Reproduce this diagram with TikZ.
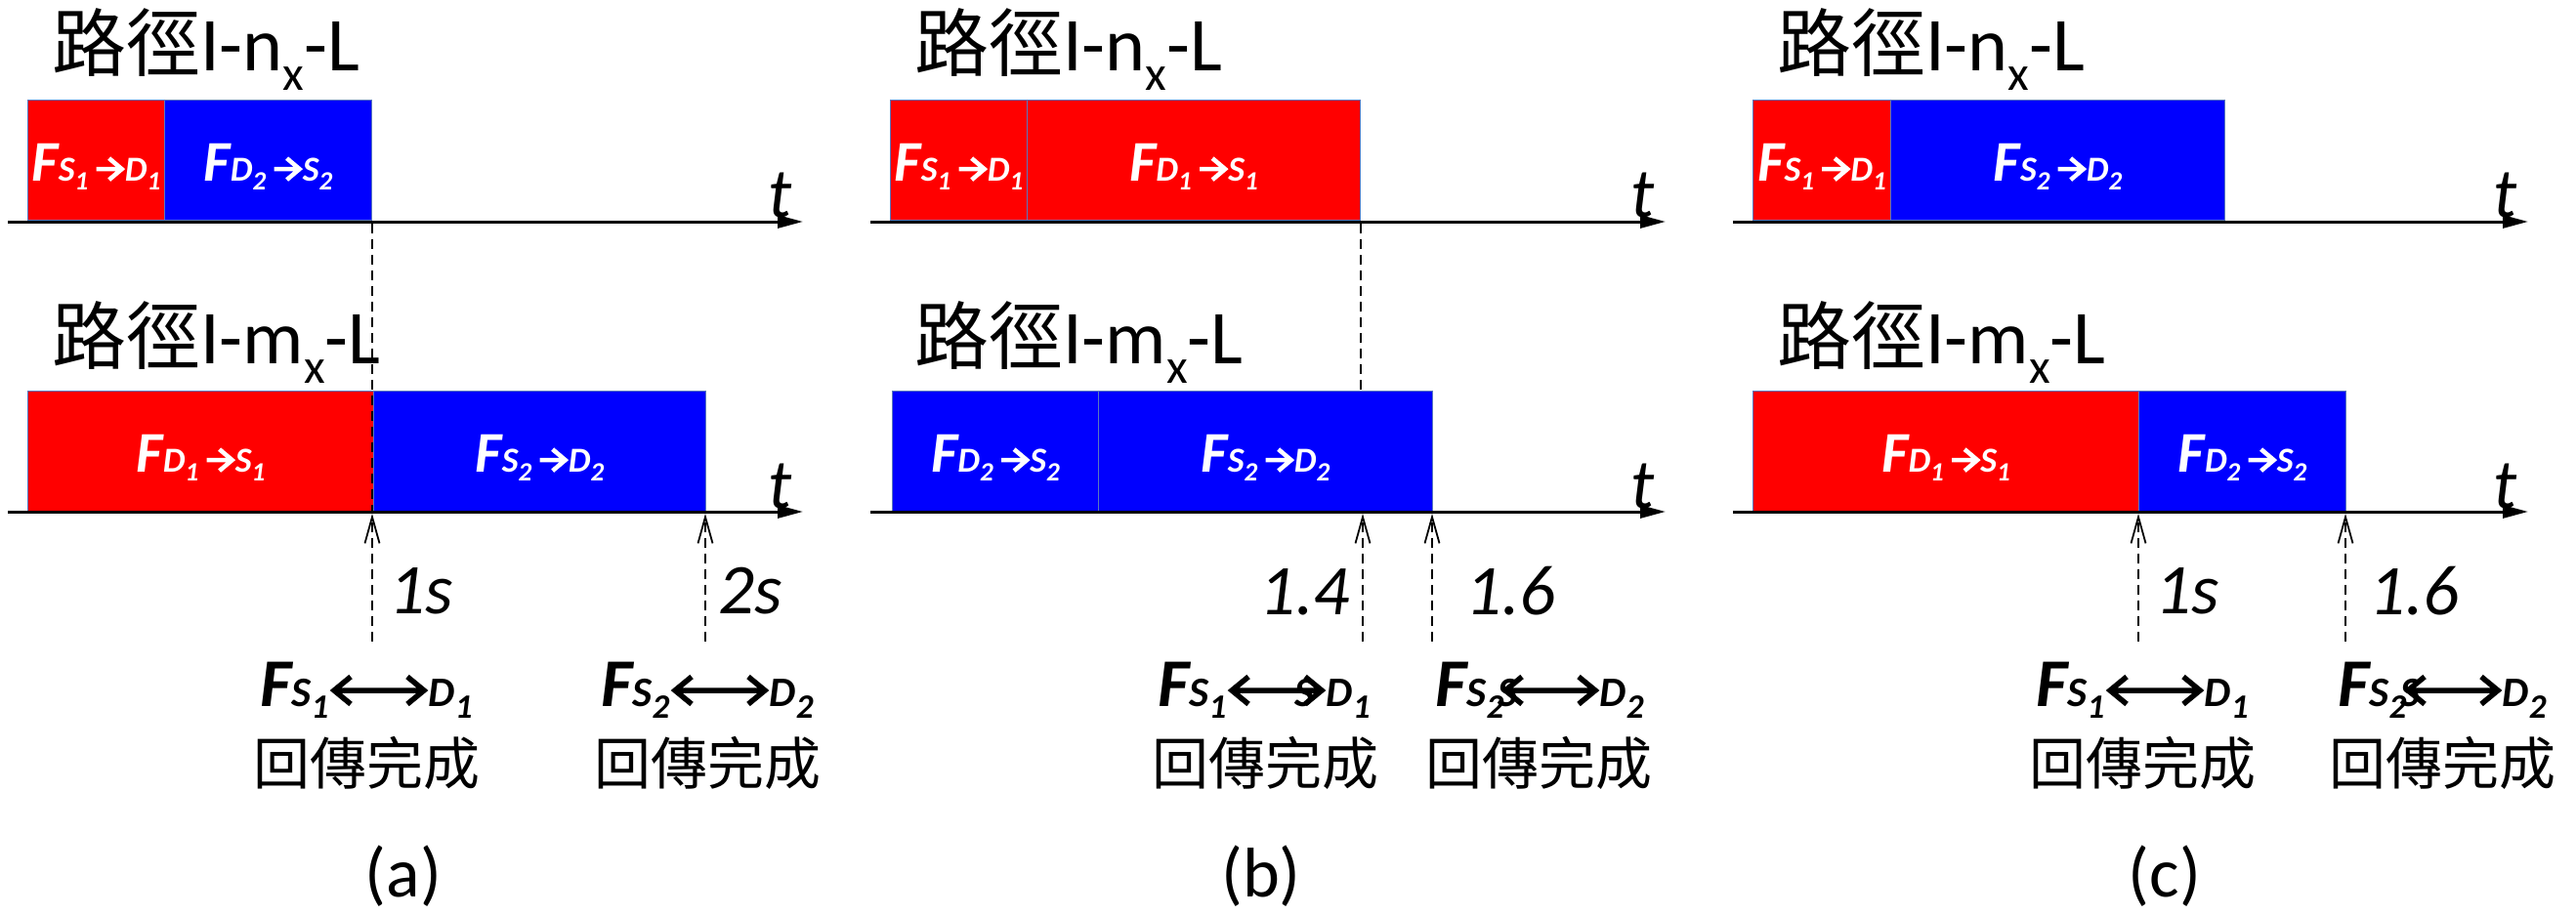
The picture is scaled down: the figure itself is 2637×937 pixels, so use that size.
\documentclass[tikz,border=0pt]{standalone}
\usepackage{fontspec}
\setmainfont{Carlito}
\newfontfamily\cjk{Noto Sans CJK TC}
\usetikzlibrary{arrows.meta}
\definecolor{edgecol}{RGB}{90,120,190}
\newcommand{\lowsub}[3]{\raisebox{-#2pt}{\fontsize{#1}{#1}\selectfont #3}}
% chevron arrows drawn inline: #1 length, #2 half height, #3 axis height, #4 stroke, #5 colour
\newcommand{\rar}[5]{\tikz[baseline=0pt,x=1pt,y=1pt]{\draw[#5, line width=#4pt, line join=miter, line cap=butt] (0,#3) -- (#1,#3) (#1-#2-2,#3+#2) -- (#1,#3) -- (#1-#2-2,#3-#2);}}
\newcommand{\lrar}[5]{\tikz[baseline=0pt,x=1pt,y=1pt]{\draw[#5, line width=#4pt, line join=miter, line cap=butt] (0,#3) -- (#1,#3) (#1-#2-3,#3+#2) -- (#1,#3) -- (#1-#2-3,#3-#2) (#2+3,#3+#2) -- (0,#3) -- (#2+3,#3-#2);}}
% label inside boxes
\newcommand{\boxlab}[4]{{\bfseries\itshape\fontsize{59}{59}\selectfont F\fontsize{36}{36}\selectfont #1\lowsub{27}{9}{#2}\kern6pt\rar{26}{11}{12}{4.5}{white}\kern1pt#3\lowsub{27}{9}{#4}}}
% label under axes
\newcommand{\botF}{\fontsize{70}{70}\selectfont F\fontsize{43}{43}\selectfont}
\newcommand{\barr}{\kern3pt\lrar{92}{14}{16}{5.5}{black}\kern2pt}
\tikzset{
  rbox/.style={fill=red, draw=edgecol, line width=1.2pt, minimum height=123pt, inner sep=0pt, anchor=north west},
  bbox/.style={fill=blue, draw=edgecol, line width=1.2pt, minimum height=123pt, inner sep=0pt, anchor=north west},
  inlab/.style={text=white, inner sep=0pt, anchor=base},
  axisline/.style={line width=3pt, -{Triangle[length=26pt,width=13pt]}},
  tlab/.style={font=\itshape\fontsize{72}{72}\selectfont, inner sep=0pt, anchor=base west},
  title/.style={font=\fontsize{78}{78}\selectfont, inner sep=0pt, anchor=base west},
  vdash/.style={line width=1.8pt, dash pattern=on 10pt off 6pt},
  uparr/.style={line width=1.8pt, dash pattern=on 10pt off 6pt, -{Straight Barb[length=27pt,width=15pt,line width=1.8pt]}},
  timelab/.style={font=\itshape\fontsize{73}{73}\selectfont, inner sep=0pt},
  botlab/.style={font=\bfseries\itshape, inner sep=0pt, anchor=base},
  cjklab/.style={font=\cjk\fontsize{58}{58}\selectfont, inner sep=0pt, anchor=base},
  panlab/.style={font=\fontsize{72}{72}\selectfont, inner sep=0pt, anchor=base}
}
\begin{document}
\begin{tikzpicture}[x=1pt,y=-1pt]
\useasboundingbox (0,0) rectangle (2637,937);
% ================= panel (a) =================
\node[title] (ta1) at (53,72) {{\cjk\fontsize{76}{76}\selectfont 路徑}I-n\lowsub{50}{20}{x}-L};
\node[rbox, minimum width=140pt] (a11) at (28,102) {};
\node[bbox, minimum width=212pt] (a12) at (168,102) {};
\node[inlab] (a11l) at ([yshift=-21pt]a11.center) {\boxlab{S}{1}{D}{1}};
\node[inlab] (a12l) at ([yshift=-21pt]a12.center) {\boxlab{D}{2}{S}{2}};
\coordinate (a1s) at (8,227); \coordinate (a1e) at (822,227);
\draw[axisline] (a1s) -- (a1e);
\node[tlab] (at1) at (786,222) {t};
\node[title] (ta2) at (53,372) {{\cjk\fontsize{76}{76}\selectfont 路徑}I-m\lowsub{50}{20}{x}-L};
\node[rbox, minimum width=354pt] (a21) at (28,400) {};
\node[bbox, minimum width=340pt] (a22) at (382,400) {};
\node[inlab] (a21l) at ([yshift=-21pt]a21.center) {\boxlab{D}{1}{S}{1}};
\node[inlab] (a22l) at ([yshift=-21pt]a22.center) {\boxlab{S}{2}{D}{2}};
\coordinate (a2s) at (8,524); \coordinate (a2e) at (822,524);
\draw[axisline] (a2s) -- (a2e);
\node[tlab] (at2) at (786,520) {t};
\coordinate (ad1) at (381,229); \coordinate (ad2) at (381,524);
\draw[vdash] (ad1) -- (ad2);
\coordinate (aub1) at (381,657); \coordinate (aut1) at (381,526);
\coordinate (aub2) at (722,657); \coordinate (aut2) at (722,526);
\draw[uparr] (aub1) -- (aut1);
\draw[uparr] (aub2) -- (aut2);
\node[timelab, anchor=base west] (atl1) at (398,628) {1s};
\node[timelab, anchor=base west] (atl2) at (735,628) {2s};
\node[botlab] (abl1) at (375,723) {\botF S\lowsub{35}{12}{1}\barr D\lowsub{35}{12}{1}};
\node[botlab] (abl2) at (724,723) {\botF S\lowsub{35}{12}{2}\barr D\lowsub{35}{12}{2}};
\node[cjklab] (acj1) at (375,803) {回傳完成};
\node[cjklab] (acj2) at (724,803) {回傳完成};
\node[panlab] (pa) at (413,918) {(a)};
% ================= panel (b) =================
\node[title] (tb1) at (936,72) {{\cjk\fontsize{76}{76}\selectfont 路徑}I-n\lowsub{50}{20}{x}-L};
\node[rbox, minimum width=140pt] (b11) at (911,102) {};
\node[rbox, minimum width=341pt] (b12) at (1051,102) {};
\node[inlab] (b11l) at ([yshift=-21pt]b11.center) {\boxlab{S}{1}{D}{1}};
\node[inlab] (b12l) at ([yshift=-21pt]b12.center) {\boxlab{D}{1}{S}{1}};
\coordinate (b1s) at (891,227); \coordinate (b1e) at (1705,227);
\draw[axisline] (b1s) -- (b1e);
\node[tlab] (bt1) at (1669,222) {t};
\node[title] (tb2) at (936,372) {{\cjk\fontsize{76}{76}\selectfont 路徑}I-m\lowsub{50}{20}{x}-L};
\node[bbox, minimum width=211pt] (b21) at (913,400) {};
\node[bbox, minimum width=342pt] (b22) at (1124,400) {};
\node[inlab] (b21l) at ([yshift=-21pt]b21.center) {\boxlab{D}{2}{S}{2}};
\node[inlab] (b22l) at ([yshift=-21pt]b22.center) {\boxlab{S}{2}{D}{2}};
\coordinate (b2s) at (891,524); \coordinate (b2e) at (1705,524);
\draw[axisline] (b2s) -- (b2e);
\node[tlab] (bt2) at (1669,520) {t};
\coordinate (bd1) at (1393,229); \coordinate (bd2) at (1393,400);
\draw[vdash] (bd1) -- (bd2);
\coordinate (bub1) at (1395,657); \coordinate (but1) at (1395,526);
\coordinate (bub2) at (1466,657); \coordinate (but2) at (1466,526);
\draw[uparr] (bub1) -- (but1);
\draw[uparr] (bub2) -- (but2);
\node[timelab, anchor=base east] (btl1) at (1382,629) {1.4};
\node[timelab, anchor=base west] (btl2) at (1500,629) {1.6};
\node[botlab] (bbl1) at (1294,723) {\botF S\lowsub{35}{12}{1}\barr\llap{S\kern12pt}D\lowsub{35}{12}{1}};
\node[botlab] (bbl2) at (1576,723) {\botF S\lowsub{35}{12}{2}\kern-6pt S\kern-18pt\barr D\lowsub{35}{12}{2}};
\node[cjklab] (bcj1) at (1295,803) {回傳完成};
\node[cjklab] (bcj2) at (1575,803) {回傳完成};
\node[panlab] (pb) at (1291,918) {(b)};
% ================= panel (c) =================
\node[title] (tc1) at (1819,72) {{\cjk\fontsize{76}{76}\selectfont 路徑}I-n\lowsub{50}{20}{x}-L};
\node[rbox, minimum width=141pt] (c11) at (1794,102) {};
\node[bbox, minimum width=342pt] (c12) at (1935,102) {};
\node[inlab] (c11l) at ([yshift=-21pt]c11.center) {\boxlab{S}{1}{D}{1}};
\node[inlab] (c12l) at ([yshift=-21pt]c12.center) {\boxlab{S}{2}{D}{2}};
\coordinate (c1s) at (1774,227); \coordinate (c1e) at (2588,227);
\draw[axisline] (c1s) -- (c1e);
\node[tlab] (ct1) at (2552,222) {t};
\node[title] (tc2) at (1819,372) {{\cjk\fontsize{76}{76}\selectfont 路徑}I-m\lowsub{50}{20}{x}-L};
\node[rbox, minimum width=395pt] (c21) at (1794,400) {};
\node[bbox, minimum width=212pt] (c22) at (2189,400) {};
\node[inlab] (c21l) at ([yshift=-21pt]c21.center) {\boxlab{D}{1}{S}{1}};
\node[inlab] (c22l) at ([yshift=-21pt]c22.center) {\boxlab{D}{2}{S}{2}};
\coordinate (c2s) at (1774,524); \coordinate (c2e) at (2588,524);
\draw[axisline] (c2s) -- (c2e);
\node[tlab] (ct2) at (2552,520) {t};
\coordinate (cub1) at (2189,657); \coordinate (cut1) at (2189,526);
\coordinate (cub2) at (2401,657); \coordinate (cut2) at (2401,526);
\draw[uparr] (cub1) -- (cut1);
\draw[uparr] (cub2) -- (cut2);
\node[timelab, anchor=base west] (ctl1) at (2206,628) {1s};
\node[timelab, anchor=base west] (ctl2) at (2425,629) {1.6};
\node[botlab] (cbl1) at (2193,723) {\botF S\lowsub{35}{12}{1}\barr D\lowsub{35}{12}{1}};
\node[botlab] (cbl2) at (2500,723) {\botF S\lowsub{35}{12}{2}\kern-6pt S\kern-18pt\barr D\lowsub{35}{12}{2}};
\node[cjklab] (ccj1) at (2193,803) {回傳完成};
\node[cjklab] (ccj2) at (2500,803) {回傳完成};
\node[panlab] (pc) at (2216,918) {(c)};
\end{tikzpicture}
\end{document}
